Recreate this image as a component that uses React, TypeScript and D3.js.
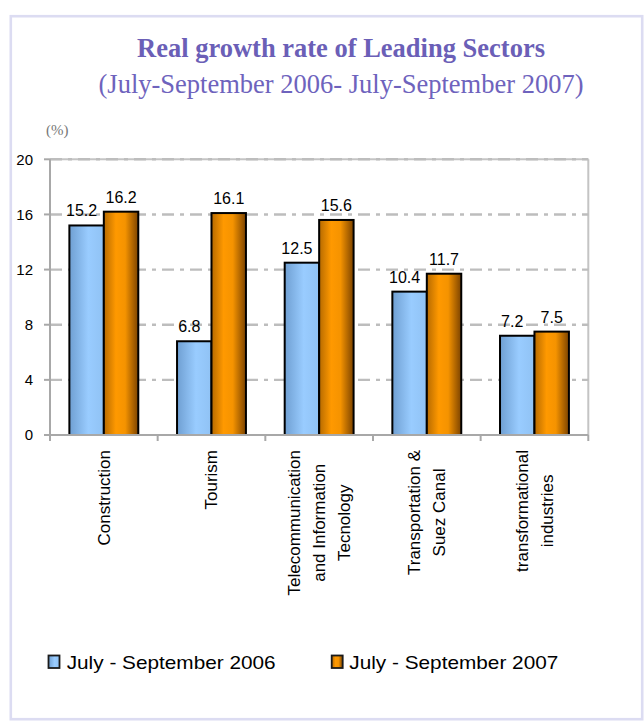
import React from 'react';
import * as d3 from 'd3';

// ---- data ----
const categoryKeys = ['Construction', 'Tourism', 'Telecom', 'Transport', 'Transform'];
const categoryLines: string[][] = [
  ['Construction'],
  ['Tourism'],
  ['Telecommunication', 'and Information', 'Tecnology'],
  ['Transportation &', 'Suez Canal'],
  ['transformational', 'industries'],
];
const series2006 = [15.2, 6.8, 12.5, 10.4, 7.2];
const series2007 = [16.2, 16.1, 15.6, 11.7, 7.5];
const seriesNames = ['July - September 2006', 'July - September 2007'];
const yTicks = [0, 4, 8, 12, 16, 20];
const gridValues = [4, 8, 12, 16, 20];
const titleText = 'Real growth rate of Leading Sectors';
const subtitleText = '(July-September 2006- July-September 2007)';
const unitText = '(%)';

const SANS = "'Liberation Sans', Arial, Helvetica, sans-serif";
const SERIF = "'Liberation Serif', 'Times New Roman', Times, serif";

function measure(text: string, font: string): number {
  if (typeof document === 'undefined') return text.length * 8;
  const c = document.createElement('canvas');
  const ctx = c.getContext('2d');
  if (!ctx) return text.length * 8;
  ctx.font = font;
  return ctx.measureText(text).width;
}

export default function App() {
  const W = 644;
  const H = 721;
  const plotL = 50;
  const plotR = 588.3;
  const plotT = 159.3;
  const plotB = 435;

  const x0 = d3
    .scaleBand<string>()
    .domain(categoryKeys)
    .range([plotL, plotR])
    .paddingInner(0.36)
    .paddingOuter(0.18);
  const x1 = d3
    .scaleBand<string>()
    .domain(['s0', 's1'])
    .range([0, x0.bandwidth()]);
  const y = d3.scaleLinear().domain([0, 20]).range([plotB, plotT]);

  const step = x0.step();
  const boundaries = d3.range(categoryKeys.length + 1).map((i) => plotL + i * step);

  const series = [series2006, series2007];
  const fills = ['url(#gBlue)', 'url(#gOrange)'];
  const labelDx = [-5, 0];

  const catFontSize = 17;
  const catFont = `${catFontSize}px 'Liberation Sans', Arial, sans-serif`;
  const lineH = 25;
  const labelTop = 450;

  return (
    <svg
      width={W}
      height={H}
      viewBox={`0 0 ${W} ${H}`}
      style={{ position: 'absolute', left: 0, top: 0, background: '#ffffff' }}
    >
      <defs>
        <linearGradient id="gBlue" x1="0" y1="0" x2="1" y2="0">
          <stop offset="0%" stopColor="#6f9fd2" />
          <stop offset="55%" stopColor="#99ccff" />
          <stop offset="100%" stopColor="#90c2f4" />
        </linearGradient>
        <linearGradient id="gOrange" x1="0" y1="0" x2="1" y2="0">
          <stop offset="0%" stopColor="#b66a00" />
          <stop offset="35%" stopColor="#ff9900" />
          <stop offset="62%" stopColor="#f59300" />
          <stop offset="100%" stopColor="#7c4300" />
        </linearGradient>
      </defs>

      {/* frame */}
      <rect x={0} y={0} width={W} height={H} fill="#ffffff" />
      <rect
        x={10.8}
        y={16.2}
        width={631.4}
        height={703}
        fill="#ffffff"
        stroke="#dcdcf2"
        strokeWidth={2.6}
      />

      {/* titles */}
      <text
        x={341}
        y={56.5}
        textAnchor="middle"
        fontFamily={SERIF}
        fontWeight="bold"
        fontSize={26.5}
        fill="#6b5fb7"
      >
        {titleText}
      </text>
      <text
        x={341}
        y={93}
        textAnchor="middle"
        fontFamily={SERIF}
        fontSize={26.5}
        fill="#6e63bd"
      >
        {subtitleText}
      </text>
      <text x={46} y={135} fontFamily={SERIF} fontSize={15} fill="#777777">
        {unitText}
      </text>

      {/* plot border top/right */}
      <line x1={plotL} x2={plotR} y1={plotT} y2={plotT} stroke="#c4c4c4" strokeWidth={2} />
      <line x1={plotR} x2={plotR} y1={plotT} y2={plotB} stroke="#c4c4c4" strokeWidth={2} />

      {/* gridlines */}
      {gridValues.map((v) => (
        <line
          key={`g${v}`}
          x1={plotL}
          x2={plotR}
          y1={y(v)}
          y2={y(v)}
          stroke="#bdbdbd"
          strokeWidth={2.4}
          strokeDasharray="12,6,4,6"
        />
      ))}

      {/* bars */}
      {categoryKeys.map((k, ci) => (
        <g key={k} transform={`translate(${x0(k)},0)`}>
          {series.map((s, si) => {
            const bx = x1(`s${si}`) as number;
            const bw = x1.bandwidth();
            return (
              <rect
                key={si}
                x={bx}
                y={y(s[ci])}
                width={bw}
                height={plotB - y(s[ci])}
                fill={fills[si]}
                stroke="#000000"
                strokeWidth={2}
              />
            );
          })}
        </g>
      ))}

      {/* value labels */}
      {categoryKeys.map((k, ci) =>
        series.map((s, si) => (
          <text
            key={`v${ci}-${si}`}
            x={(x0(k) as number) + (x1(`s${si}`) as number) + x1.bandwidth() / 2 + labelDx[si]}
            y={y(s[ci]) - 9}
            textAnchor="middle"
            fontFamily={SANS}
            fontSize={16}
            fill="#000000"
          >
            {s[ci].toFixed(1)}
          </text>
        ))
      )}

      {/* axes */}
      <line x1={plotL} x2={plotL} y1={plotT} y2={plotB + 1} stroke="#a8a8a8" strokeWidth={2} />
      <line x1={plotL - 6} x2={plotR} y1={plotB} y2={plotB} stroke="#a8a8a8" strokeWidth={2} />
      {yTicks.map((v) => (
        <g key={`yt${v}`}>
          <line x1={plotL - 6} x2={plotL} y1={y(v)} y2={y(v)} stroke="#a8a8a8" strokeWidth={2} />
          <text
            x={33}
            y={y(v)}
            dy="0.36em"
            textAnchor="end"
            fontFamily={SANS}
            fontSize={15}
            fill="#000000"
          >
            {v}
          </text>
        </g>
      ))}
      {boundaries.map((bx, i) => (
        <line key={`xt${i}`} x1={bx} x2={bx} y1={plotB} y2={plotB + 6} stroke="#a8a8a8" strokeWidth={2} />
      ))}

      {/* category labels */}
      {categoryKeys.map((k, ci) => {
        const lines = categoryLines[ci];
        const maxLen = d3.max(lines, (l) => measure(l, catFont)) as number;
        const cx = (x0(k) as number) + x0.bandwidth() / 2;
        const cy = labelTop + maxLen / 2;
        const n = lines.length;
        return (
          <g key={`cl${k}`} transform={`translate(${cx},${cy}) rotate(-90)`}>
            {lines.map((l, li) => (
              <text
                key={li}
                x={0}
                y={(li - (n - 1) / 2) * lineH + 6}
                textAnchor="middle"
                fontFamily={SANS}
                fontSize={catFontSize}
                fill="#000000"
              >
                {l}
              </text>
            ))}
          </g>
        );
      })}

      {/* legend */}
      {seriesNames.map((name, i) => {
        const sx = i === 0 ? 48.5 : 331.7;
        const tx = i === 0 ? 66.7 : 349.3;
        return (
          <g key={`lg${i}`}>
            <rect
              x={sx}
              y={655.5}
              width={11}
              height={12.5}
              fill={fills[i]}
              stroke="#1a1a1a"
              strokeWidth={1.8}
            />
            <text
              x={tx}
              y={669.3}
              fontFamily={SANS}
              fontSize={19}
              textLength={209}
              lengthAdjust="spacingAndGlyphs"
              fill="#000000"
            >
              {name}
            </text>
          </g>
        );
      })}
    </svg>
  );
}
